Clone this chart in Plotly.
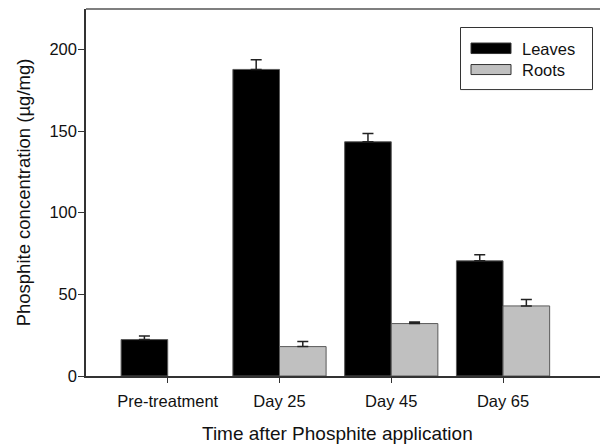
import plotly.graph_objects as go

categories = ["Pre-treatment", "Day 25", "Day 45", "Day 65"]
leaves = [22.3, 187.7, 143.4, 70.5]
leaves_err = [2.2, 6.0, 5.0, 3.7]
roots = [None, 18.0, 32.1, 42.9]
roots_err = [None, 3.1, 1.0, 4.0]
y_ticks = [0, 50, 100, 150, 200]
x_title = "Time after Phosphite application"
y_title = "Phosphite concentration (µg/mg)"

# page body has an 8px margin; the figure is placed at (8, 8) in the window
OFF = 8
W, H = 608 - OFF, 446 - OFF
L, R, T, B = 86 - OFF, 0, 9 - OFF, 446 - 375.7
pw, ph = W - L - R, H - T - B

def px_x(x):
    return (x - OFF - L) / pw

def px_y(y):
    return (H - B - (y - OFF)) / ph

FONT = "Liberation Sans, Arial, sans-serif"
outline = "#5a5a5a"

fig = go.Figure()
fig.add_trace(go.Bar(
    x=categories, y=leaves, name="Leaves",
    marker=dict(color="#000000", line=dict(color=outline, width=1)),
    error_y=dict(type="data", array=leaves_err, arrayminus=[0]*4, symmetric=False,
                 color="#222222", thickness=1.5, width=5.5),
))
fig.add_trace(go.Bar(
    x=categories, y=roots, name="Roots",
    marker=dict(color="#c0c0c0", line=dict(color=outline, width=1)),
    error_y=dict(type="data", array=roots_err, arrayminus=[0]*4, symmetric=False,
                 color="#222222", thickness=1.5, width=5.5),
))

fig.update_layout(
    width=W, height=H,
    margin=dict(l=L, r=R, t=T, b=B),
    paper_bgcolor="white", plot_bgcolor="white",
    barmode="group", bargap=0.166, bargroupgap=0,
    showlegend=False,
    font=dict(family=FONT, size=16.5, color="#111111"),
)
fig.update_xaxes(
    range=[-0.731, 3.939], showgrid=False, zeroline=False,
    showline=True, linecolor="#333333", linewidth=1.5,
    ticks="outside", ticklen=5, tickwidth=1.2, tickcolor="#333333",
    tickfont=dict(size=16.5), ticklabelstandoff=4,
)
fig.update_yaxes(
    range=[0, 224.7], showgrid=False, zeroline=False,
    tickvals=y_ticks,
    showline=True, linecolor="#333333", linewidth=1.5,
    ticks="outside", ticklen=6, tickwidth=1.2, tickcolor="#333333",
    tickfont=dict(size=16.5), ticklabelstandoff=-2,
    title=dict(text=y_title, font=dict(size=18.5), standoff=14),
)

# x-axis title (centred as in the reference)
fig.add_annotation(xref="paper", yref="paper", x=px_x(337), y=px_y(433.5),
                   text=x_title, showarrow=False, xanchor="center", yanchor="middle",
                   font=dict(size=19, family=FONT, color="#111111"))

# top frame line
fig.add_shape(type="line", xref="paper", yref="paper", x0=0, x1=1, y0=1, y1=1,
              line=dict(color="#555555", width=1.5))

# custom legend
fig.add_shape(type="rect", xref="paper", yref="paper",
              x0=px_x(460.5), x1=px_x(592.5), y0=px_y(89.5), y1=px_y(27.5),
              line=dict(color="#333333", width=1), fillcolor="white")
for name, color, y0p, y1p, ty in [("Leaves", "#000000", 53.5, 43, 48.5),
                                    ("Roots", "#c0c0c0", 74.5, 64.5, 69.5)]:
    fig.add_shape(type="rect", xref="paper", yref="paper",
                  x0=px_x(471), x1=px_x(511), y0=px_y(y0p), y1=px_y(y1p),
                  line=dict(color="#333333", width=1), fillcolor=color)
    fig.add_annotation(xref="paper", yref="paper", x=px_x(519.5), y=px_y(ty),
                       text=name, showarrow=False, xanchor="left", yanchor="middle",
                       font=dict(size=16.5, family=FONT, color="#111111"))

fig.write_html("out.html")
